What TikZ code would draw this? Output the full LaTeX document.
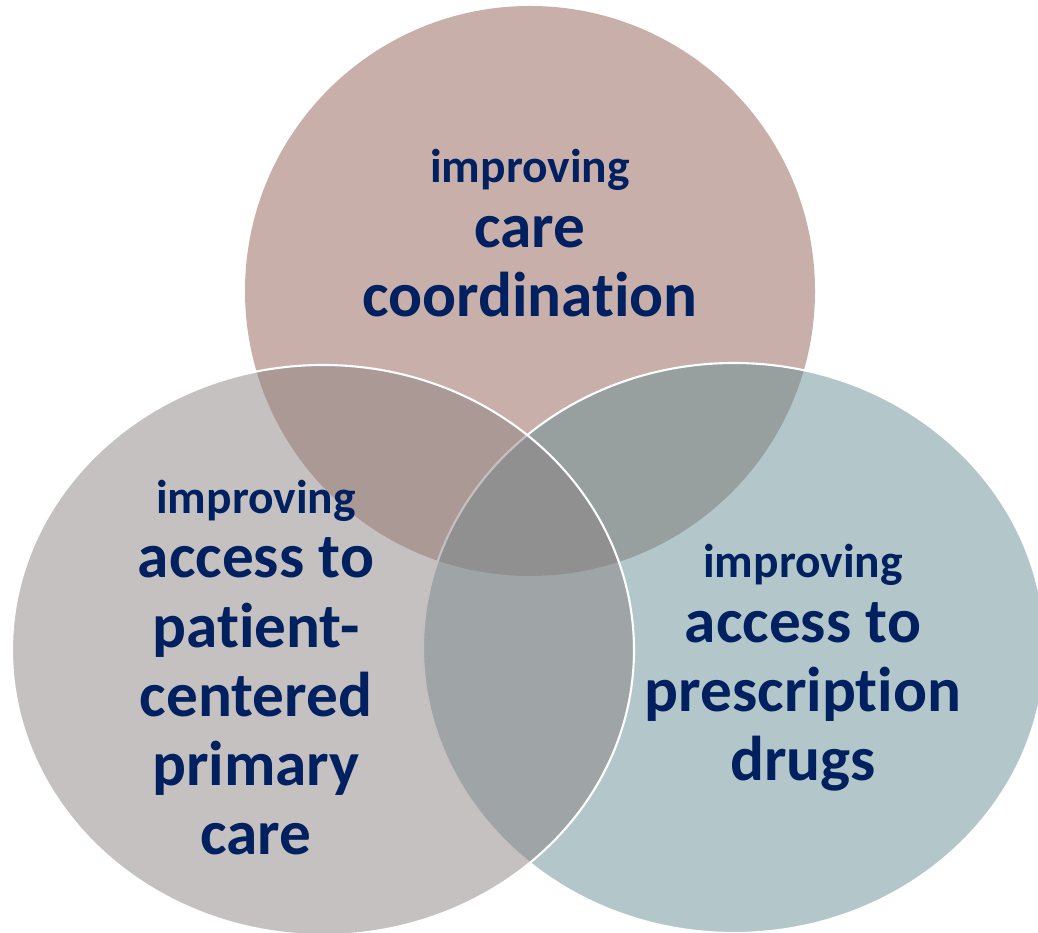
\documentclass[tikz,border=0pt]{standalone}
\usepackage{fontspec}
\setmainfont{Carlito}[Ligatures={NoCommon}]
\definecolor{bleunuit}{HTML}{002060}
\definecolor{rosecercle}{HTML}{935F53}
\definecolor{grisfonce}{HTML}{8D8383}
\definecolor{bleugris}{HTML}{678F95}
\begin{document}
\begin{tikzpicture}[xscale=1,yscale=1]
		\tikzstyle{cercle}=[fill opacity=0.5]
		\tikzstyle{bord}=[draw=white,line width=1.2pt]
		\tikzstyle{texte}=[text=bleunuit,align=center,font=\bfseries\fontsize{36}{39.4}\selectfont]
		\def\Largeur{20.76}
		\def\Hauteur{18.66}
		\def\RayonH{6.22}
		\def\RayonV{5.7}
		\def\PetitMot{{\fontsize{27}{30}\selectfont improving}\\[-2.6pt]}
		\useasboundingbox (0,0) rectangle (\Largeur,\Hauteur);
		\clip (0,0) rectangle (\Largeur,\Hauteur);
		\coordinate (CentreHaut) at (10.6,12.84);
		\coordinate (CentreDroit) at (14.68,5.70);
		\coordinate (CentreGauche) at (6.46,5.66);
		\fill[cercle,rosecercle] (CentreHaut) circle (\RayonV);
		\path[cercle,bord,fill=bleugris] (CentreDroit) ellipse ({\RayonH} and {\RayonV});
		\path[cercle,bord,fill=grisfonce] (CentreGauche) ellipse ({\RayonH} and {\RayonV});
		\node[texte] (coordination) at (10.6,14.0) {\PetitMot care\\coordination};
		\node[texte] (soins) at (5.12,5.31) {\PetitMot access to\\patient-\\centered\\primary\\care};
		\node[texte] (medicaments) at (16.06,5.30) {\PetitMot access to\\prescription\\drugs};
	\end{tikzpicture}
\end{document}
